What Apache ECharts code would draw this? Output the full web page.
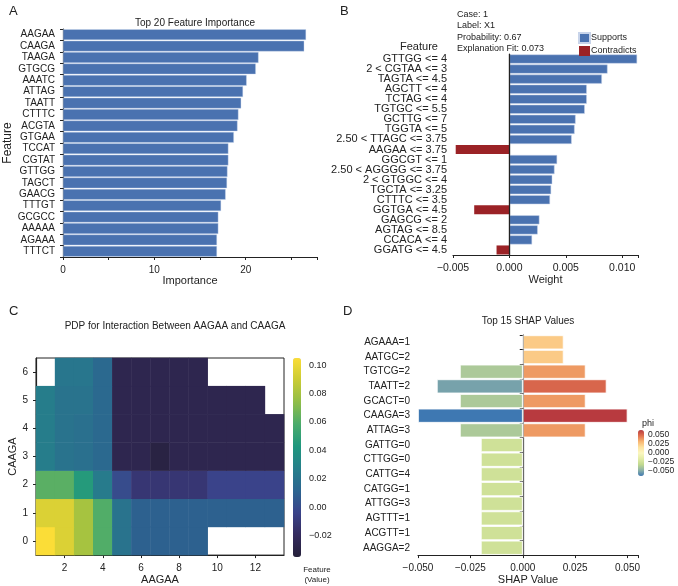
<!DOCTYPE html>
<html><head><meta charset="utf-8">
<script src="https://cdn.jsdelivr.net/npm/echarts@6/dist/echarts.min.js"></script>
<style>html,body{margin:0;padding:0;background:#fff}#c{width:678px;height:586px}</style>
</head><body><div id="c"></div>
<script>
// Panel A
const featA = ['AAGAA','CAAGA','TAAGA','GTGCG','AAATC','ATTAG','TAATT','CTTTC','ACGTA','GTGAA','TCCAT','CGTAT','GTTGG','TAGCT','GAACG','TTTGT','GCGCC','AAAAA','AGAAA','TTTCT'];
const impA = [26.6,26.4,21.4,21.1,20.1,19.7,19.5,19.2,19.1,18.7,18.1,18.1,18.0,17.95,17.8,17.3,17.0,17.0,16.85,16.85];
// Panel B
const featB = ['GTTGG <= 4','2 < CGTAA <= 3','TAGTA <= 4.5','AGCTT <= 4','TCTAG <= 4','TGTGC <= 5.5','GCTTG <= 7','TGGTA <= 5','2.50 < TTAGC <= 3.75','AAGAA <= 3.75','GGCGT <= 1','2.50 < AGGGG <= 3.75','2 < GTGGC <= 4','TGCTA <= 3.25','CTTTC <= 3.5','GGTGA <= 4.5','GAGCG <= 2','AGTAG <= 8.5','CCACA <= 4','GGATG <= 4.5'];
const weightB = [0.01132,0.0087,0.0082,0.00686,0.00686,0.00668,0.00587,0.00578,0.00552,-0.00476,0.00423,0.0040,0.0038,0.0037,0.0036,-0.00312,0.00266,0.00251,0.00201,-0.00114];
const infoB = ['Case: 1','Label: X1','Probability: 0.67','Explanation Fit: 0.073'];
// Panel C
const xC = ['1','2','3','4','5','6','7','8','9','10','11','12','13'];
const yC = ['0','1','2','3','4','5','6'];
const gridC = { // rows from y=0 to y=6, null = empty cell
  0:[0.105,0.095,0.08,0.06,0.02,0.01,0.01,0.01,0.01,null,null,null,null],
  1:[0.095,0.095,0.08,0.06,0.02,0.01,0.01,0.01,0.01,0.01,0.01,0.01,0.01],
  2:[0.062,0.062,0.045,0.025,0.0,-0.012,-0.012,-0.012,-0.012,-0.004,-0.004,-0.004,-0.004],
  3:[0.026,0.02,0.018,0.014,-0.026,-0.026,-0.031,-0.026,-0.026,-0.026,-0.026,-0.026,-0.026],
  4:[0.026,0.02,0.018,0.014,-0.026,-0.026,-0.026,-0.026,-0.026,-0.026,-0.026,-0.026,-0.026],
  5:[0.026,0.02,0.02,0.014,-0.026,-0.026,-0.026,-0.026,-0.026,-0.026,-0.026,-0.026,null],
  6:[null,0.022,0.022,0.014,-0.026,-0.026,-0.026,-0.026,-0.026,null,null,null,null]
};
const cbTicksC = [-0.02,0,0.02,0.04,0.06,0.08,0.10];
// Panel D
const featD = ['AGAAA=1','AATGC=2','TGTCG=2','TAATT=2','GCACT=0','CAAGA=3','ATTAG=3','GATTG=0','CTTGG=0','CATTG=4','CATGG=1','ATTGG=3','AGTTT=1','ACGTT=1','AAGGA=2'];
const posD = [0.0195,0.0195,0.03,0.04,0.03,0.05,0.03,null,null,null,null,null,null,null,null];
const negD = [null,null,-0.03,-0.041,-0.03,-0.05,-0.03,-0.02,-0.02,-0.02,-0.02,-0.02,-0.02,-0.02,-0.02];
const cbTicksD = [-0.05,-0.025,0,0.025,0.05];

const heat = [];
for (let yi=0; yi<yC.length; yi++) gridC[yi].forEach((v,xi)=>{ if(v!==null) heat.push([xi,yi,v]); });
const fmt3 = v => (v<0?'\u2212':'') + Math.abs(v).toFixed(3);
const txt = '#222', F = 'Liberation Sans';
const lab = {color:txt, fontSize:10, fontFamily:F};
const axL = {show:true, lineStyle:{color:'#222', width:1.2}};
const tk = {show:true, length:3, lineStyle:{color:'#222'}};
const chart = echarts.init(document.getElementById('c'), null, {renderer:'canvas'});
chart.setOption({
  animation:false,
  textStyle:{fontFamily:F},
  title:[
    {text:'A', left:4, top:0, textStyle:{fontSize:13, fontWeight:'normal', color:txt}},
    {text:'Top 20 Feature Importance', left:190, top:13, textAlign:'center', textStyle:{fontSize:10, fontWeight:'normal', color:txt}},
    {text:'B', left:335, top:0, textStyle:{fontSize:13, fontWeight:'normal', color:txt}},
    {text:infoB.join('\n'), left:452, top:4, textStyle:{fontSize:9, fontWeight:'normal', color:txt, lineHeight:11.3}},
    {text:'Feature', left:395, top:36, textStyle:{fontSize:11, fontWeight:'normal', color:txt}},
    {text:'C', left:4, top:300, textStyle:{fontSize:13, fontWeight:'normal', color:txt}},
    {text:'PDP for Interaction Between AAGAA and CAAGA', left:170, top:316, textAlign:'center', textStyle:{fontSize:10, fontWeight:'normal', color:txt}},
    {text:'Feature\n(Value)', left:312, top:560, textAlign:'center', textStyle:{fontSize:8, fontWeight:'normal', color:txt, lineHeight:10, align:'center'}},
    {text:'D', left:338, top:300, textStyle:{fontSize:13, fontWeight:'normal', color:txt}},
    {text:'Top 15 SHAP Values', left:523, top:311, textAlign:'center', textStyle:{fontSize:10, fontWeight:'normal', color:txt}},
    {text:'phi', left:637, top:414, textStyle:{fontSize:9, fontWeight:'normal', color:txt}}
  ],
  legend:{data:['Supports','Contradicts'], left:573, top:27, orient:'vertical', itemWidth:11, itemHeight:10, itemGap:2, icon:'rect', textStyle:{fontSize:9, color:txt, padding:[0,0,0,-4]}},
  grid:[
    {left:63, top:29, width:254, height:228},
    {left:453, top:54, width:185, height:201},
    {left:36, top:358, width:248, height:199, show:true, borderColor:'#222', borderWidth:1},
    {left:293, top:358, width:8, height:199},
    {left:418, top:335, width:220, height:223},
    {left:638, top:435, width:6, height:36}
  ],
  xAxis:[
    {gridIndex:0, type:'value', min:0, max:27.8, interval:5, axisLine:axL, axisTick:tk, splitLine:{show:false},
     axisLabel:Object.assign({}, lab, {formatter:v=> v%10===0? String(v):''}), name:'Importance', nameLocation:'middle', nameGap:16, nameTextStyle:{fontSize:11,color:txt}},
    {gridIndex:1, type:'value', min:-0.005, max:0.0114, interval:0.005, axisLine:axL, axisTick:tk, splitLine:{show:false},
     axisLabel:Object.assign({}, lab, {fontSize:10.5, formatter:v=> Math.abs(Math.round(v*1e6)%5000)<1 ? fmt3(v):''}), name:'Weight', nameLocation:'middle', nameGap:18, nameTextStyle:{fontSize:11,color:txt}},
    {gridIndex:2, type:'category', data:xC, axisLine:axL, splitLine:{show:false},
     axisTick:{show:true, length:3, alignWithLabel:true, interval:(i)=> (i+1)%2===0, lineStyle:{color:'#222'}},
     axisLabel:Object.assign({}, lab, {interval:(i)=> (i+1)%2===0}), name:'AAGAA', nameLocation:'middle', nameGap:16, nameTextStyle:{fontSize:11,color:txt}},
    {gridIndex:3, type:'value', show:false},
    {gridIndex:4, type:'value', min:-0.05, max:0.055, interval:0.025, axisLine:axL, axisTick:tk, splitLine:{show:false},
     axisLabel:Object.assign({}, lab, {formatter:v=> v<=0.0501 ? fmt3(v):''}), name:'SHAP Value', nameLocation:'middle', nameGap:18, nameTextStyle:{fontSize:11,color:txt}},
    {gridIndex:5, type:'value', show:false}
  ],
  yAxis:[
    {gridIndex:0, type:'category', data:featA, inverse:true, axisLine:axL, axisTick:tk, axisLabel:Object.assign({},lab,{interval:0}),
     name:'Feature', nameLocation:'middle', nameGap:44, nameTextStyle:{fontSize:12,color:txt}},
    {gridIndex:1, type:'category', data:featB, inverse:true, axisLine:axL, axisTick:{show:false}, axisLabel:Object.assign({},lab,{fontSize:11, interval:0, margin:6})},
    {gridIndex:2, type:'category', data:yC, axisLine:axL, axisTick:{show:true,length:3,alignWithLabel:true,lineStyle:{color:'#222'}}, axisLabel:lab,
     name:'CAAGA', nameLocation:'middle', nameGap:18, nameTextStyle:{fontSize:11,color:txt}},
    {gridIndex:3, type:'value', position:'right', min:-0.035, max:0.105, axisLine:{show:false}, splitLine:{show:false},
     axisTick:{show:true, length:3, customValues:cbTicksC, lineStyle:{color:'#222'}},
     axisLabel:Object.assign({}, lab, {fontSize:9, customValues:cbTicksC, formatter:v=> (v<0?'\u2212':'')+Math.abs(v).toFixed(2)})},
    {gridIndex:4, type:'category', data:featD, inverse:true, axisLine:axL, axisTick:{show:true,length:3,lineStyle:{color:'#222'}}, axisLabel:Object.assign({},lab,{fontSize:10, interval:0})},
    {gridIndex:5, type:'value', position:'right', min:-0.05, max:0.05, axisLine:{show:false}, axisTick:{show:false}, splitLine:{show:false},
     axisLabel:Object.assign({}, lab, {fontSize:8.5, margin:4, customValues:cbTicksD, formatter:v=> fmt3(v)})}
  ],
  visualMap:[
    {type:'continuous', seriesIndex:2, min:-0.035, max:0.105, left:293, top:358, itemWidth:8, itemHeight:199, padding:0, calculable:false, showLabel:false,
     inRange:{color:['#25203a','#342b5e','#3a438a','#2c6590','#267f8b','#1f977e','#4aab6c','#8fbd48','#c9cb34','#fbdd37']}, textStyle:{color:'transparent'}},
    {type:'continuous', seriesIndex:[3,4], dimension:0, min:-0.05, max:0.05, left:638, top:430, itemWidth:6, itemHeight:46, padding:0, calculable:false, textStyle:{color:'transparent'},
     inRange:{color:['#3e78b2','#8db2a8','#c1d98f','#e3eca6','#fbf7c0','#fee3a0','#f8b671','#e0714f','#b83a3f']}}
  ],
  series:[
    {name:'Supports', type:'bar', xAxisIndex:1, yAxisIndex:1, stack:'b', barCategoryGap:'10%', itemStyle:{color:'#4a72b0', borderColor:'#c8d4ea', borderWidth:0.5},
     data:weightB.map(v=> v>0? v : null),
     markLine:{silent:true, symbol:'none', label:{show:false}, lineStyle:{color:'#222', type:'solid', width:1.2}, data:[{xAxis:0}]}},
    {name:'Contradicts', type:'bar', xAxisIndex:1, yAxisIndex:1, stack:'b', barCategoryGap:'10%', itemStyle:{color:'#9b2226'},
     data:weightB.map(v=> v<0? v : null)},
    {type:'heatmap', xAxisIndex:2, yAxisIndex:2, data:heat},
    {type:'bar', xAxisIndex:4, yAxisIndex:4, barGap:'-100%', barCategoryGap:'4%', itemStyle:{borderColor:'#fff', borderWidth:0.8},
     data:posD.map((v,i)=> v===null? null : [v, featD[i]]),
     markLine:{silent:true, symbol:'none', label:{show:false}, lineStyle:{color:'#999', type:'solid', width:0.6}, data:[{xAxis:0}]}},
    {type:'bar', xAxisIndex:4, yAxisIndex:4, barGap:'-100%', barCategoryGap:'4%', itemStyle:{borderColor:'#fff', borderWidth:0.8},
     data:negD.map((v,i)=> v===null? null : [v, featD[i]])},
    {type:'bar', xAxisIndex:0, yAxisIndex:0, barCategoryGap:'6%', itemStyle:{color:'#4a72b0', borderColor:'#d0dcef', borderWidth:0.4}, data:impA}
  ]
});
</script></body></html>
